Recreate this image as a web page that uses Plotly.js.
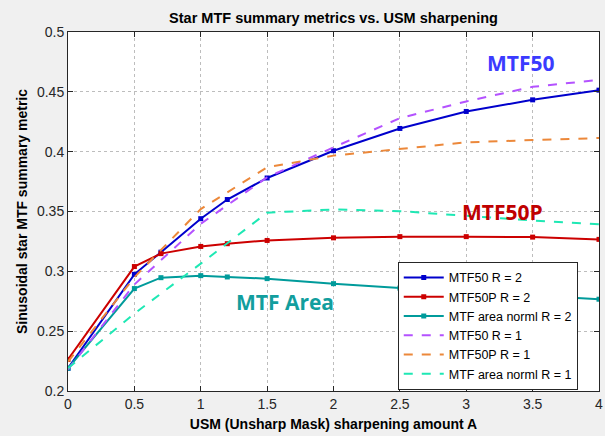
<!DOCTYPE html>
<html>
<head>
<meta charset="utf-8">
<script src="https://cdn.plot.ly/plotly-3.0.1.min.js"></script>
<style>html,body{margin:0;padding:0;background:#f0f0f0;}#chart{width:605px;height:436px;}</style>
</head>
<body>
<div id="chart"></div>
<script>
// Sharpening amounts
const xR2 = [0, 0.5, 0.7, 1, 1.2, 1.5, 2, 2.5, 3, 3.5, 4];
const mtf50R2 = [0.219, 0.2975, 0.316, 0.344, 0.360, 0.378, 0.4008, 0.4194, 0.4336, 0.4433, 0.4514];
const mtf50pR2 = [0.2264, 0.304, 0.3148, 0.3208, 0.3231, 0.3258, 0.328, 0.329, 0.329, 0.3286, 0.3267];
const areaR2 = [0.219, 0.2856, 0.2947, 0.2964, 0.2953, 0.2939, 0.2897, 0.286, 0.2832, 0.2800, 0.2767];

const xR1 = [0, 0.5, 1, 1.5, 2, 2.5, 3, 3.5, 4];
const mtf50R1 = [0.218, 0.289, 0.3397, 0.3786, 0.4036, 0.428, 0.442, 0.4542, 0.460];
const mtf50pR1 = [0.2245, 0.295, 0.352, 0.387, 0.3967, 0.4022, 0.4078, 0.4097, 0.4114];
const areaR1 = [0.219, 0.2647, 0.3064, 0.349, 0.3517, 0.3503, 0.3464, 0.3425, 0.3394];

const seriesNames = ['MTF50 R = 2', 'MTF50P R = 2', 'MTF area norml R = 2', 'MTF50 R = 1', 'MTF50P R = 1', 'MTF area norml R = 1'];
const xTicks = [0, 0.5, 1, 1.5, 2, 2.5, 3, 3.5, 4];
const xTickText = ['0', '0.5', '1', '1.5', '2', '2.5', '3', '3.5', '4'];
const yTicks = [0.2, 0.25, 0.3, 0.35, 0.4, 0.45, 0.5];
const yTickText = ['0.2', '0.25', '0.3', '0.35', '0.4', '0.45', '0.5'];
const labelTexts = ['MTF50', 'MTF50P', 'MTF Area'];

const solid = (x, y, name, color) => ({
  x: x, y: y, name: name, type: 'scatter', mode: 'lines+markers',
  line: {color: color, width: 2}, marker: {symbol: 'square', size: 5, color: color}
});
const dashed = (x, y, name, color) => ({
  x: x, y: y, name: name, type: 'scatter', mode: 'lines',
  line: {color: color, width: 2, dash: 'dash'}
});

const data = [
  solid(xR2, mtf50R2, seriesNames[0], '#0000cc'),
  solid(xR2, mtf50pR2, seriesNames[1], '#cc0000'),
  solid(xR2, areaR2, seriesNames[2], '#009b9b'),
  dashed(xR1, mtf50R1, seriesNames[3], '#b452ff'),
  dashed(xR1, mtf50pR1, seriesNames[4], '#ec883a'),
  dashed(xR1, areaR1, seriesNames[5], '#1ee8b4')
];

const FONT = 'Liberation Sans, Arial, sans-serif';
const axisCommon = {
  showline: true, linecolor: '#262626', linewidth: 1, mirror: 'ticks',
  ticks: 'inside', ticklen: 5, tickcolor: '#262626',
  showgrid: true, gridcolor: '#bdbdbd', griddash: 'dot', gridwidth: 1,
  zeroline: false, tickfont: {family: FONT, size: 14, color: '#262626'}
};

const layout = {
  width: 605, height: 436,
  paper_bgcolor: '#f0f0f0', plot_bgcolor: '#ffffff',
  margin: {l: 68, r: 6, t: 32, b: 45},
  title: {text: '<b>Star MTF summary metrics vs. USM sharpening</b>', xref: 'paper', x: 0.5, xanchor: 'center', y: 0.958, yanchor: 'middle',
    font: {family: FONT, size: 14.5, color: '#000'}},
  xaxis: Object.assign({}, axisCommon, {
    range: [0, 4], tickvals: xTicks, ticktext: xTickText,
    title: {text: '<b>USM (Unsharp Mask) sharpening amount A</b>', standoff: 8,
      font: {family: FONT, size: 14, color: '#000'}}
  }),
  yaxis: Object.assign({}, axisCommon, {
    range: [0.2, 0.5], tickvals: yTicks, ticktext: yTickText,
    title: {text: '<b>Sinusoidal star MTF summary metric</b>', standoff: 6,
      font: {family: FONT, size: 14, color: '#000'}}
  }),
  legend: {
    x: 0.621, y: 0.36, xanchor: 'left', yanchor: 'top',
    bgcolor: '#ffffff', bordercolor: '#262626', borderwidth: 1,
    font: {family: FONT, size: 12.5, color: '#000'},
    tracegroupgap: 0, itemwidth: 40
  },
  showlegend: true,
  annotations: [
    {x: 3.41, y: 0.474, xref: 'x', yref: 'y', text: '<b>' + labelTexts[0] + '</b>', showarrow: false,
      font: {family: 'Open Sans, sans-serif', size: 21, color: '#3b3bff'}},
    {x: 3.27, y: 0.3494, xref: 'x', yref: 'y', text: '<b>' + labelTexts[1] + '</b>', showarrow: false,
      font: {family: 'Open Sans, sans-serif', size: 21, color: '#c00000'}},
    {x: 1.635, y: 0.274, xref: 'x', yref: 'y', text: '<b>' + labelTexts[2] + '</b>', showarrow: false,
      font: {family: 'Open Sans, sans-serif', size: 21, color: '#129e9e'}}
  ]
};

Plotly.newPlot('chart', data, layout, {displayModeBar: false, staticPlot: true});
</script>
</body>
</html>
